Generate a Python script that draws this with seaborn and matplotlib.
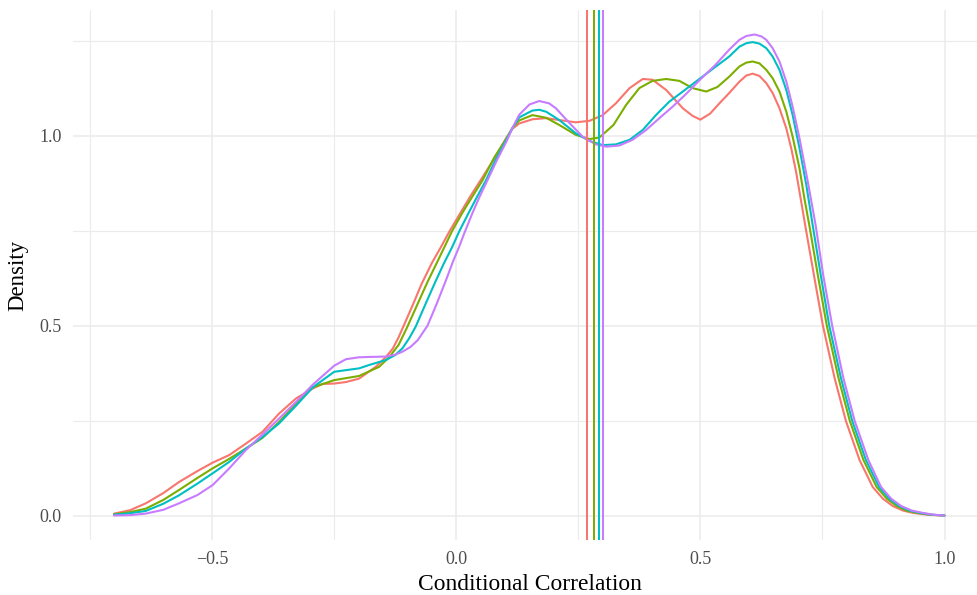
import numpy as np
import pandas as pd
import matplotlib
matplotlib.use("Agg")
import matplotlib.pyplot as plt
from matplotlib.ticker import FixedLocator
import seaborn as sns

# Density curves of conditional correlation, one per group
groups = ["1", "2", "3", "4"]
colors = ["#F8766D", "#7CAE00", "#00BFC4", "#C77CFF"]

x_g1 = [-0.701, -0.668, -0.636, -0.600, -0.568, -0.530, -0.499, -0.465, -0.431, -0.397,
        -0.363, -0.328, -0.294, -0.274, -0.250, -0.226, -0.199, -0.165, -0.144, -0.130,
        -0.118, -0.106, -0.090, -0.071, -0.050, -0.031, -0.014, 0.010, 0.030, 0.051,
        0.078, 0.103, 0.115, 0.129, 0.156, 0.184, 0.211, 0.245, 0.273, 0.300,
        0.327, 0.355, 0.382, 0.402, 0.430, 0.464, 0.484, 0.500, 0.520, 0.539,
        0.559, 0.580, 0.594, 0.607, 0.621, 0.635, 0.648, 0.662, 0.676, 0.686,
        0.696, 0.706, 0.715, 0.733, 0.751, 0.775, 0.798, 0.826, 0.853, 0.874,
        0.894, 0.915, 0.935, 0.965, 1.000]
y_g1 = [0.006, 0.015, 0.033, 0.060, 0.089, 0.118, 0.140, 0.160, 0.190, 0.221,
        0.269, 0.309, 0.335, 0.347, 0.348, 0.352, 0.361, 0.392, 0.418, 0.440,
        0.470, 0.505, 0.552, 0.610, 0.665, 0.708, 0.748, 0.800, 0.843, 0.885,
        0.940, 0.995, 1.018, 1.032, 1.043, 1.046, 1.041, 1.035, 1.039, 1.054,
        1.085, 1.125, 1.149, 1.147, 1.120, 1.072, 1.052, 1.042, 1.058, 1.085,
        1.112, 1.142, 1.158, 1.163, 1.157, 1.138, 1.112, 1.072, 1.019, 0.967,
        0.905, 0.830, 0.762, 0.630, 0.500, 0.362, 0.250, 0.147, 0.076, 0.045,
        0.026, 0.014, 0.008, 0.003, 0.001]

x_g2 = [-0.701, -0.668, -0.636, -0.600, -0.568, -0.530, -0.499, -0.465, -0.431, -0.397,
        -0.363, -0.328, -0.294, -0.250, -0.199, -0.158, -0.137, -0.118, -0.101, -0.080,
        -0.059, -0.040, -0.025, -0.009, 0.012, 0.033, 0.054, 0.078, 0.103, 0.115,
        0.129, 0.156, 0.184, 0.211, 0.245, 0.273, 0.293, 0.322, 0.348, 0.375,
        0.402, 0.430, 0.457, 0.484, 0.512, 0.535, 0.559, 0.580, 0.594, 0.607,
        0.621, 0.635, 0.648, 0.662, 0.676, 0.689, 0.703, 0.713, 0.723, 0.741,
        0.759, 0.783, 0.806, 0.834, 0.861, 0.882, 0.902, 0.922, 0.943, 0.972,
        1.000]
y_g2 = [0.004, 0.010, 0.019, 0.042, 0.068, 0.100, 0.125, 0.150, 0.177, 0.205,
        0.247, 0.295, 0.338, 0.357, 0.368, 0.392, 0.418, 0.450, 0.495, 0.555,
        0.615, 0.665, 0.705, 0.748, 0.796, 0.840, 0.883, 0.943, 0.993, 1.020,
        1.040, 1.054, 1.047, 1.028, 1.002, 0.991, 0.995, 1.028, 1.081, 1.125,
        1.144, 1.149, 1.144, 1.125, 1.116, 1.128, 1.155, 1.182, 1.192, 1.195,
        1.190, 1.173, 1.151, 1.116, 1.063, 0.997, 0.914, 0.835, 0.765, 0.630,
        0.500, 0.362, 0.250, 0.147, 0.076, 0.045, 0.026, 0.014, 0.008, 0.003,
        0.001]

x_g3 = [-0.701, -0.668, -0.636, -0.600, -0.568, -0.530, -0.499, -0.465, -0.431, -0.397,
        -0.363, -0.328, -0.294, -0.250, -0.199, -0.178, -0.144, -0.125, -0.110, -0.096,
        -0.083, -0.062, -0.042, -0.025, -0.008, 0.006, 0.025, 0.043, 0.061, 0.080,
        0.103, 0.115, 0.129, 0.156, 0.170, 0.184, 0.211, 0.245, 0.273, 0.300,
        0.327, 0.355, 0.382, 0.409, 0.436, 0.464, 0.500, 0.530, 0.559, 0.580,
        0.594, 0.607, 0.621, 0.635, 0.648, 0.662, 0.676, 0.689, 0.703, 0.717,
        0.730, 0.747, 0.764, 0.788, 0.811, 0.839, 0.866, 0.887, 0.907, 0.928,
        0.949, 0.975, 1.000]
y_g3 = [0.003, 0.007, 0.013, 0.032, 0.054, 0.085, 0.112, 0.142, 0.177, 0.207,
        0.243, 0.290, 0.338, 0.379, 0.388, 0.397, 0.410, 0.423, 0.441, 0.468,
        0.498, 0.560, 0.618, 0.665, 0.708, 0.748, 0.796, 0.840, 0.883, 0.935,
        0.990, 1.020, 1.048, 1.066, 1.068, 1.063, 1.041, 1.006, 0.986, 0.975,
        0.977, 0.989, 1.015, 1.054, 1.089, 1.116, 1.151, 1.180, 1.208, 1.234,
        1.243, 1.246, 1.242, 1.230, 1.208, 1.173, 1.120, 1.054, 0.967, 0.870,
        0.765, 0.630, 0.500, 0.362, 0.250, 0.147, 0.076, 0.045, 0.026, 0.014,
        0.008, 0.003, 0.001]

x_g4 = [-0.701, -0.668, -0.636, -0.600, -0.568, -0.530, -0.499, -0.465, -0.431, -0.397,
        -0.363, -0.328, -0.294, -0.250, -0.226, -0.200, -0.178, -0.144, -0.125, -0.110,
        -0.094, -0.079, -0.059, -0.040, -0.021, -0.007, 0.006, 0.016, 0.033, 0.048,
        0.064, 0.083, 0.103, 0.115, 0.129, 0.150, 0.170, 0.190, 0.204, 0.232,
        0.259, 0.286, 0.307, 0.334, 0.361, 0.389, 0.416, 0.443, 0.471, 0.500,
        0.530, 0.559, 0.580, 0.594, 0.611, 0.625, 0.635, 0.648, 0.662, 0.676,
        0.689, 0.703, 0.720, 0.736, 0.752, 0.770, 0.793, 0.816, 0.844, 0.870,
        0.891, 0.911, 0.933, 0.955, 0.978, 1.000]
y_g4 = [0.001, 0.002, 0.006, 0.016, 0.033, 0.055, 0.081, 0.125, 0.173, 0.214,
        0.256, 0.300, 0.345, 0.395, 0.412, 0.417, 0.418, 0.419, 0.424, 0.432,
        0.444, 0.462, 0.500, 0.558, 0.620, 0.668, 0.708, 0.742, 0.796, 0.840,
        0.883, 0.935, 0.985, 1.020, 1.055, 1.082, 1.091, 1.085, 1.072, 1.033,
        0.997, 0.977, 0.971, 0.974, 0.989, 1.015, 1.046, 1.076, 1.110, 1.148,
        1.185, 1.226, 1.252, 1.262, 1.266, 1.261, 1.252, 1.230, 1.195, 1.142,
        1.076, 0.993, 0.879, 0.765, 0.630, 0.500, 0.362, 0.250, 0.147, 0.076,
        0.045, 0.026, 0.014, 0.008, 0.003, 0.001]

# group means shown as vertical reference lines
group_means = [0.268, 0.282, 0.293, 0.301]

x_ticks = [-0.5, 0.0, 0.5, 1.0]
x_tick_labels = ["\u22120.5", "0.0", "0.5", "1.0"]
y_ticks = [0.0, 0.5, 1.0]
y_tick_labels = ["0.0", "0.5", "1.0"]

frames = []
for g, xs, ys in zip(groups, [x_g1, x_g2, x_g3, x_g4], [y_g1, y_g2, y_g3, y_g4]):
    frames.append(pd.DataFrame({"corr": xs, "density": ys, "group": g}))
df = pd.concat(frames, ignore_index=True)

sns.set_theme(style="white")
plt.rcParams["font.family"] = ["Liberation Serif", "DejaVu Serif"]

fig = plt.figure(figsize=(9.77, 5.95), dpi=100)
ax = fig.add_axes([73 / 977, 55 / 595, 913 / 977, 530 / 595])

sns.lineplot(data=df, x="corr", y="density", hue="group", hue_order=groups,
             palette=colors, sort=False, estimator=None, legend=False,
             linewidth=1.5, ax=ax, zorder=3)
for line in ax.get_lines():
    line.set_solid_joinstyle("round")

for m, c in zip(group_means, colors):
    ax.axvline(m, color=c, linewidth=1.45, zorder=3)

ax.set_xlim(-0.785, 1.085)
ax.set_ylim(-0.0634, 1.3304)

ax.xaxis.set_major_locator(FixedLocator(x_ticks))
ax.set_xticklabels(x_tick_labels)
ax.yaxis.set_major_locator(FixedLocator(y_ticks))
ax.set_yticklabels(y_tick_labels)
ax.xaxis.set_minor_locator(FixedLocator([-0.75, -0.25, 0.25, 0.75]))
ax.yaxis.set_minor_locator(FixedLocator([0.25, 0.75, 1.25]))

ax.grid(which="major", color="#EBEBEB", linewidth=1.1, zorder=0)
ax.grid(which="minor", color="#EBEBEB", linewidth=0.8, zorder=0)
ax.set_axisbelow(True)
for s in ax.spines.values():
    s.set_visible(False)

ax.tick_params(axis="both", which="both", length=0, labelsize=13, labelcolor="#4D4D4D")
ax.tick_params(axis="x", pad=8)
ax.tick_params(axis="y", pad=8)

ax.set_xlabel("Conditional Correlation", fontsize=16.9, color="black", labelpad=4)
ax.set_ylabel("Density", fontsize=16.5, color="black", labelpad=8)

fig.savefig("out.png", dpi=100, facecolor="white")
